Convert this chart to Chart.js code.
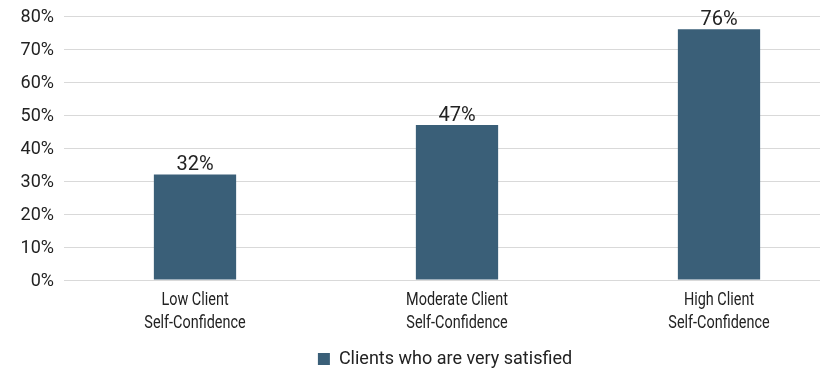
<!DOCTYPE html>
<html>
<head>
<meta charset="utf-8">
<script src="https://cdn.jsdelivr.net/npm/chart.js@4/dist/chart.umd.min.js"></script>
<style>
  html, body { margin: 0; padding: 0; background: #ffffff; overflow: hidden; }
  #wrap { position: relative; width: 850px; height: 371px; }
</style>
</head>
<body>
<div id="wrap"><canvas id="chart"></canvas></div>
<script>
// Share of clients who are very satisfied, by level of client self-confidence
const categories = [
  ['Low Client', 'Self-Confidence'],
  ['Moderate Client', 'Self-Confidence'],
  ['High Client', 'Self-Confidence']
];
const seriesName = 'Clients who are very satisfied';
const satisfiedPct = [32, 47, 76];
const yTicks = [0, 10, 20, 30, 40, 50, 60, 70, 80];

const BAR_COLOR = '#3a5f78';
const TEXT_COLOR = '#222222';
const FONT = 'Roboto, "Noto Sans", sans-serif';

// Value above each bar
const valueLabels = {
  id: 'valueLabels',
  afterDatasetsDraw(chart) {
    const { ctx } = chart;
    const meta = chart.getDatasetMeta(0);
    ctx.save();
    ctx.font = '20px ' + FONT;
    ctx.fillStyle = TEXT_COLOR;
    ctx.textAlign = 'center';
    ctx.textBaseline = 'alphabetic';
    meta.data.forEach((bar, i) => {
      ctx.fillText(chart.data.datasets[0].data[i] + '%', bar.x, bar.y - 4);
    });
    ctx.restore();
  }
};

// Narrow two-line category labels under the x axis
const narrowCategoryLabels = {
  id: 'narrowCategoryLabels',
  afterDraw(chart) {
    const { ctx } = chart;
    const xs = chart.scales.x;
    const squeeze = 0.76;
    ctx.save();
    ctx.font = '19px ' + FONT;
    ctx.fillStyle = TEXT_COLOR;
    ctx.textAlign = 'center';
    ctx.textBaseline = 'alphabetic';
    chart.data.labels.forEach((lines, i) => {
      const cx = xs.getPixelForValue(i);
      lines.forEach((line, j) => {
        ctx.save();
        ctx.translate(cx, xs.top + 25 + j * 23);
        ctx.scale(squeeze, 1);
        ctx.fillText(line, 0, 0);
        ctx.restore();
      });
    });
    ctx.restore();
  }
};

// Nudge the legend into place under the plot
const legendOffset = {
  id: 'legendOffset',
  afterLayout(chart) {
    const lg = chart.legend;
    if (!lg) return;
    lg.left += 20; lg.right += 20;
    lg.top += 7; lg.bottom += 7;
  }
};

new Chart(document.getElementById('chart'), {
  type: 'bar',
  data: {
    labels: categories,
    datasets: [{
      label: seriesName,
      data: satisfiedPct,
      backgroundColor: BAR_COLOR,
      borderWidth: 0,
      categoryPercentage: 1.0,
      barPercentage: 0.314
    }]
  },
  options: {
    responsive: true,
    maintainAspectRatio: false,
    animation: false,
    layout: { padding: { top: 16, left: 0, right: 0, bottom: 0 } },
    plugins: {
      legend: {
        position: 'bottom',
        labels: {
          boxWidth: 12,
          boxHeight: 12,
          padding: 8,
          color: TEXT_COLOR,
          font: { family: FONT, size: 18 }
        }
      },
      tooltip: { enabled: false }
    },
    scales: {
      x: {
        grid: { display: false, drawTicks: false },
        border: { display: false },
        ticks: { display: false },
        afterFit(scale) { scale.height = 55; }
      },
      y: {
        min: yTicks[0],
        max: yTicks[yTicks.length - 1],
        afterBuildTicks(scale) { scale.ticks = yTicks.map(v => ({ value: v })); },
        grid: { color: '#d9d9d9', lineWidth: 1, drawTicks: true, tickLength: 10, tickColor: 'rgba(0,0,0,0)' },
        border: { display: false },
        ticks: {
          color: TEXT_COLOR,
          padding: 0,
          labelOffset: 1,
          font: { family: FONT, size: 18 },
          callback: v => v + '%'
        },
        afterFit(scale) { scale.width = 64; }
      }
    }
  },
  plugins: [valueLabels, narrowCategoryLabels, legendOffset]
});
</script>
</body>
</html>
